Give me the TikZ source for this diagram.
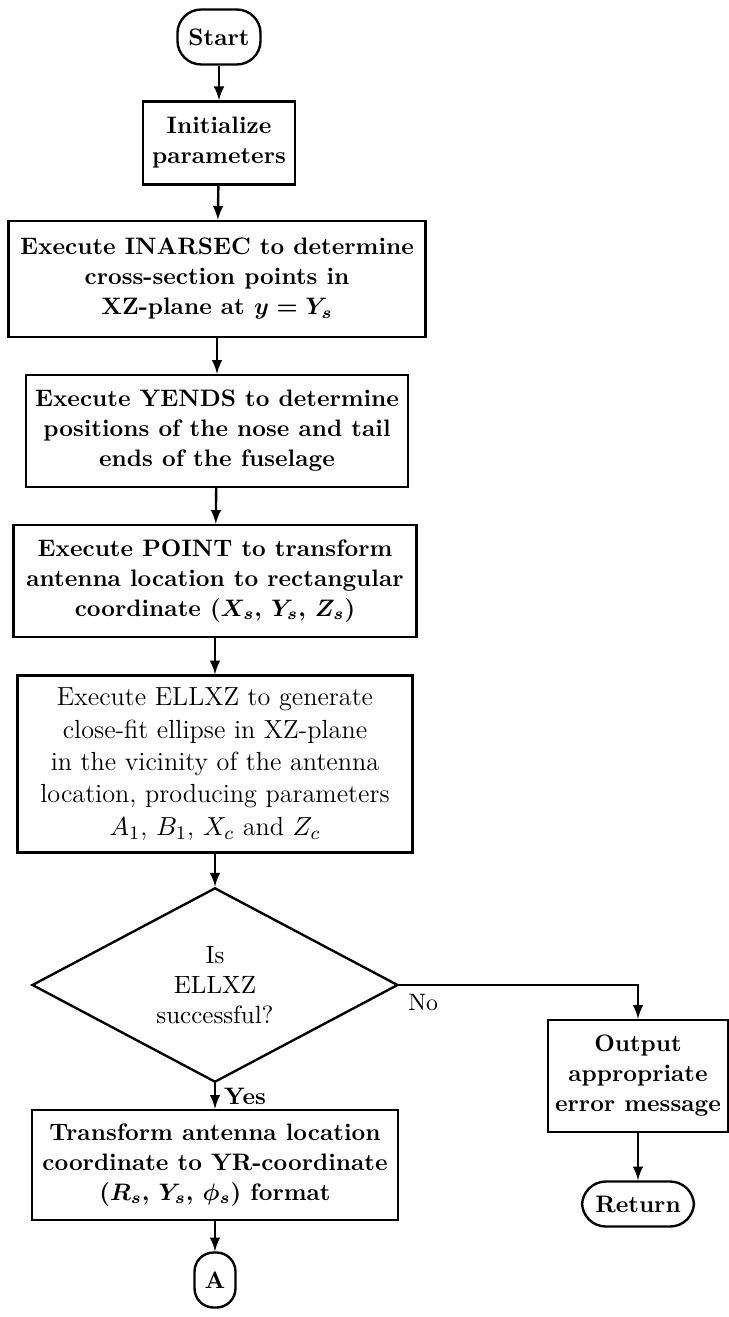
\documentclass[tikz,border=0pt]{standalone}
\usetikzlibrary{arrows,shapes}
\tikzset{
  proc/.style={draw,line width=1pt,align=center,inner sep=2pt,font=\fontsize{10}{12.6}\selectfont\bfseries\boldmath},
  term/.style={proc,rounded corners=10pt},
  plain/.style={proc,font=\fontsize{11}{13.6}\selectfont},
  ask/.style={draw,line width=1pt,diamond,align=center,inner sep=0pt,font=\fontsize{10.5}{12.6}\selectfont},
  flow/.style={line width=1pt,-latex}
}

\begin{document}
\begin{tikzpicture}[x=0.42pt,y=-0.42pt]
            \useasboundingbox (0,0) rectangle (729,1317);
            \node[term,minimum width=34.9pt,minimum height=23.1pt] (start) at (219,37) {Start};
            \node[proc,minimum width=63.8pt,minimum height=34.9pt] (init) at (219,143) {Initialize\\parameters};
            \node[proc,minimum width=175.1pt,minimum height=48.7pt] (insec) at (217,279) {Execute INARSEC to determine\\cross-section points in\\XZ-plane at $y=Y_s$};
            \node[proc,minimum width=160.4pt,minimum height=47pt] (yends) at (217,431) {Execute YENDS to determine\\positions of the nose and tail\\ends of the fuselage};
            \node[proc,minimum width=169.3pt,minimum height=47pt] (point) at (215,581) {Execute POINT to transform\\antenna location to rectangular\\coordinate $(X_s,\,Y_s,\,Z_s)$};
            \node[plain,minimum width=165.9pt,minimum height=74.3pt] (ellxz) at (215,764) {Execute ELLXZ to generate\\close-fit ellipse in XZ-plane\\in the vicinity of the antenna\\location, producing parameters\\$A_1$, $B_1$, $X_c$ and $Z_c$};
            \node[ask,minimum width=153.7pt,minimum height=77.3pt] (test) at (215,985) {Is\\ELLXZ\\successful?};
            \node[proc,minimum width=153.7pt,minimum height=46.2pt] (trans) at (215,1165) {Transform antenna location\\coordinate to YR-coordinate\\$(R_s,\,Y_s,\,\phi_s)$ format};
            \node[term,rounded corners=8pt,minimum width=17.2pt,minimum height=23.1pt] (conA) at (215,1280) {A};
            \node[proc,minimum width=75.6pt,minimum height=47pt] (output) at (638,1076) {Output\\appropriate\\error message};
            \node[term,minimum width=47pt,minimum height=18.9pt] (ret) at (638,1204) {Return};
            \draw[flow] (start) -- (init);
            \draw[flow] (init) -- (insec);
            \draw[flow] (insec) -- (yends);
            \draw[flow] (yends) -- (point);
            \draw[flow] (point) -- (ellxz);
            \draw[flow] (ellxz) -- (test);
            \draw[flow] (test) -- node[right,font=\bfseries]{Yes} (trans);
            \draw[flow] (trans) -- (conA);
            \draw[flow] (test.east) -| node[pos=0,anchor=north west]{No} (output.north);
            \draw[flow] (output) -- (ret);
        \end{tikzpicture}
\end{document}
